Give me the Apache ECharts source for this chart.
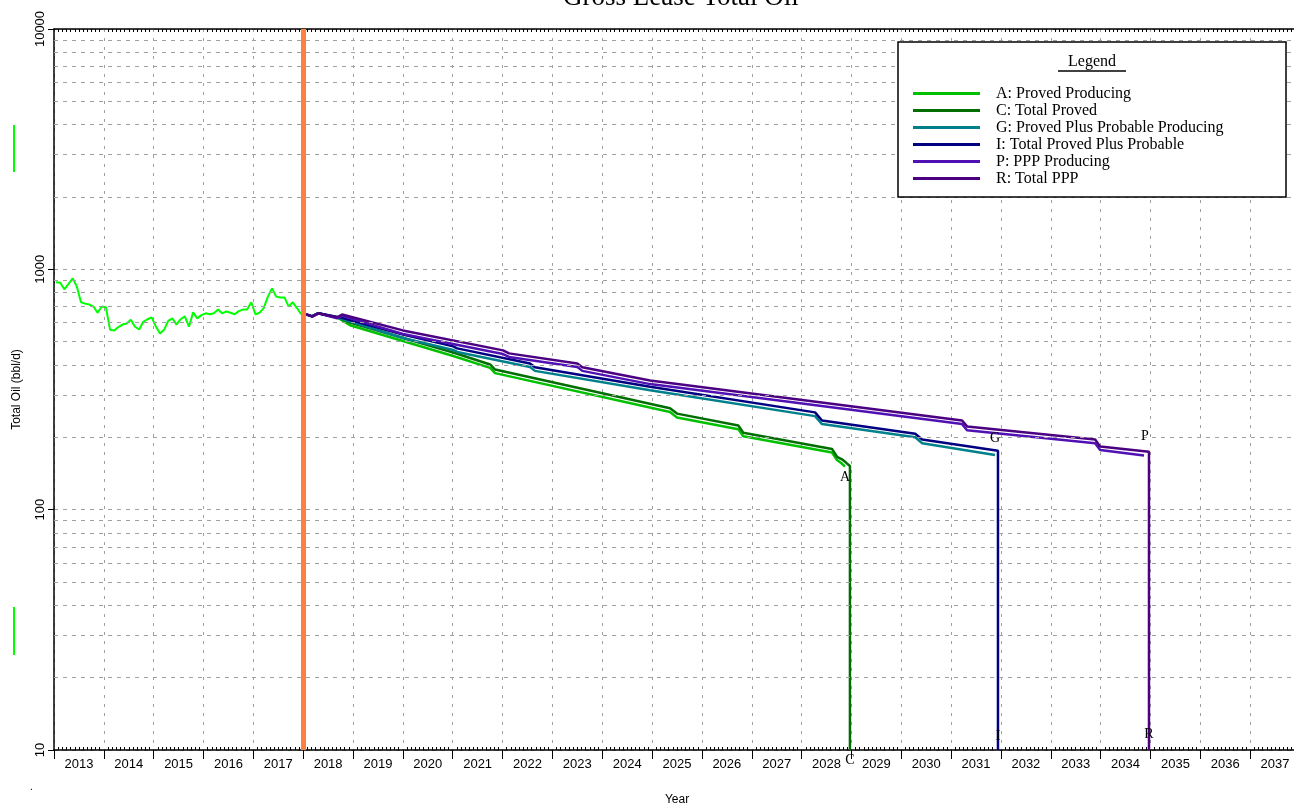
<!DOCTYPE html>
<html>
<head>
<meta charset="utf-8">
<script src="https://cdn.jsdelivr.net/npm/echarts@6/dist/echarts.min.js"></script>
<style>
html,body{margin:0;padding:0;background:#fff;}
#chart{width:1294px;height:803px;}
</style>
</head>
<body>
<div id="chart"></div>
<script>
// ---------- DATA ----------
const yearLabels = ['2013','2014','2015','2016','2017','2018','2019','2020','2021','2022','2023','2024','2025','2026','2027','2028','2029','2030','2031','2032','2033','2034','2035','2036','2037'];
const yTickValues = [10, 100, 1000, 10000];
const minorGridValues = [20,30,40,50,60,70,80,90,200,300,400,500,600,700,800,900,2000,3000,4000,5000,6000,7000,8000,9000];
const forecastStart = 2018;

// historical monthly production 2013-01 .. 2017-12 (bbl/d)
const histStartYear = 2013;
const histValues = [
  883,880,826,870,917,849,729,720,714,700,660,700,
  696,560,557,575,589,595,617,577,562,605,620,631,
  580,541,560,610,625,589,620,637,577,662,625,645,
  656,650,656,680,656,668,660,650,670,680,680,729,
  650,660,690,770,833,770,764,764,700,729,690,650
];

// forecasts [year, bbl/d]
const seriesA = [[2018.0,656],[2018.18,637],[2018.3,656],[2018.7,628],[2018.94,585],[2021.01,436],[2021.75,389],[2021.85,370],[2025.36,255],[2025.5,242],[2026.73,216],[2026.83,202],[2028.61,173],[2028.71,161],[2028.8,156],[2028.87,151]];
const seriesC = [[2018.0,656],[2018.18,637],[2018.3,656],[2018.7,631],[2018.94,601],[2021.01,451],[2021.75,402],[2021.85,383],[2025.36,264],[2025.5,251],[2026.73,224],[2026.83,209],[2028.61,179],[2028.71,166],[2028.81,162],[2028.89,157],[2028.97,152],[2028.97,10]];
const seriesG = [[2018.0,656],[2018.18,637],[2018.3,656],[2018.74,625],[2020.0,518],[2021.01,462],[2021.09,453],[2022.55,392],[2022.65,378],[2024.96,314],[2028.27,245],[2028.41,227],[2030.28,200],[2030.42,189],[2031.88,169]];
const seriesI = [[2018.0,656],[2018.18,637],[2018.3,656],[2018.74,631],[2020.0,536],[2021.01,478],[2021.09,469],[2022.55,406],[2022.65,391],[2024.96,325],[2028.27,254],[2028.41,235],[2030.28,207],[2030.42,196],[2031.94,176],[2031.94,10]];
const seriesP = [[2018.0,656],[2018.18,637],[2018.3,656],[2018.68,625],[2018.78,640],[2020.0,538],[2022.01,444],[2022.13,432],[2023.5,392],[2023.6,378],[2024.96,333],[2031.22,227],[2031.32,214],[2033.89,189],[2033.99,177],[2034.87,168]];
const seriesR = [[2018.0,656],[2018.18,637],[2018.3,656],[2018.68,631],[2018.78,649],[2020.0,557],[2022.01,460],[2022.13,447],[2023.5,406],[2023.6,391],[2024.96,345],[2031.22,235],[2031.32,222],[2033.89,196],[2033.99,183],[2034.97,174],[2034.97,10]];

const names = {
  A:'A: Proved Producing', C:'C: Total Proved', G:'G: Proved Plus Probable Producing',
  I:'I: Total Proved Plus Probable', P:'P: PPP Producing', R:'R: Total PPP'
};
const colors = {A:'#00c000', C:'#006e00', G:'#00808a', I:'#000080', P:'#5010b4', R:'#4b0082'};

// ---------- CHART ----------
const histData = histValues.map((v,i)=>[histStartYear + (i+0.5)/12, v]);
const SERIF = 'Liberation Serif, Times New Roman, serif';
const SANS = 'Liberation Sans, Arial, sans-serif';

function lineSeries(key, data, labelOffset) {
  const last = data[data.length-1];
  return {
    name: names[key], type:'line', data: data, showSymbol:false, symbol:'none',
    xAxisIndex:0, yAxisIndex:0, z:3,
    lineStyle:{color:colors[key], width:2.5},
    itemStyle:{color:colors[key]},
    animation:false,
    markPoint:{
      symbol:'circle', symbolSize:0, silent:true, animation:false,
      data:[{coord:last, label:{show:true, formatter:key, position:'inside', offset:labelOffset, color:'#000', fontFamily:SERIF, fontSize:14}}]
    }
  };
}

const chart = echarts.init(document.getElementById('chart'), null, {renderer:'canvas'});
const option = {
  backgroundColor:'#fff',
  animation:false,
  title:{
    text:'Gross Lease Total Oil', left:558, top:-21,
    textStyle:{fontFamily:SERIF, fontWeight:'normal', fontSize:27, color:'#000'}
  },
  grid:{left:54, top:29, right:-6, bottom:53, containLabel:false, outerBoundsMode:'none'},
  legend:{
    data:[names.A,names.C,names.G,names.I,names.P,names.R].map(n=>({name:n, icon:'rect'})),
    orient:'vertical', left:913, top:85, itemWidth:67, itemHeight:3, itemGap:0,
    padding:0, z:10,
    textStyle:{fontFamily:SERIF, fontSize:16, color:'#000', lineHeight:17, padding:[0,0,0,11]},
    selectedMode:false
  },
  xAxis:[
    { type:'value', min:2013, max:2038, interval:1, position:'bottom',
      axisLine:{show:true, lineStyle:{color:'#000', width:1.5}},
      axisTick:{show:false, inside:true},
      minorTick:{show:true, splitNumber:12, length:3, lineStyle:{color:'#000', width:1}},
      axisLabel:{show:false},
      splitLine:{show:true, lineStyle:{color:'#a0a0a0', type:[3,6], width:1}}
    },
    { type:'category', data:yearLabels, boundaryGap:true, position:'bottom', gridIndex:0,
      axisLine:{show:false},
      axisTick:{show:true, length:9, lineStyle:{color:'#000', width:1}},
      axisLabel:{show:true, fontFamily:SANS, fontSize:13, color:'#000', margin:8, interval:0},
      splitLine:{show:false},
      name:'Year', nameLocation:'middle', nameGap:44,
      nameTextStyle:{fontFamily:SANS, fontSize:12, color:'#000'}
    },
    { type:'value', min:2013, max:2038, interval:1, position:'top',
      axisLine:{show:true, lineStyle:{color:'#000', width:1.5}},
      axisTick:{show:false, inside:true},
      minorTick:{show:true, splitNumber:12, length:3, lineStyle:{color:'#000', width:1}},
      axisLabel:{show:false}, splitLine:{show:false}
    }
  ],
  yAxis:[{
    type:'log', logBase:10, min:10, max:10000,
    axisLine:{show:true, lineStyle:{color:'#000', width:1.5}},
    axisTick:{show:true, length:6, lineStyle:{color:'#000'}},
    axisLabel:{show:true, rotate:90, fontFamily:SANS, fontSize:13, color:'#000', margin:7,
      formatter:v=>String(Math.round(v)),
      customValues: yTickValues},
    splitLine:{show:true, lineStyle:{color:'#a0a0a0', type:[4,5], width:1}},
    name:'Total Oil (bbl/d)', nameLocation:'middle', nameGap:31,
    nameTextStyle:{fontFamily:SANS, fontSize:12, color:'#000'}
  }],
  series:[
    { name:'_grid', type:'line', data:[], xAxisIndex:0, yAxisIndex:0, z:1, animation:false,
      markLine:{ silent:true, symbol:['none','none'], animation:false, label:{show:false},
        lineStyle:{color:'#a0a0a0', type:[4,5], width:1},
        data: minorGridValues.map(v=>({yAxis:v}))
      }
    },
    { name:'_hist', type:'line', data:histData, showSymbol:false, symbol:'none', z:3,
      xAxisIndex:0, yAxisIndex:0, animation:false,
      lineStyle:{color:'#00ff00', width:2},
      markLine:{ silent:true, symbol:['none','none'], animation:false, label:{show:false},
        lineStyle:{color:'#ff7f3f', type:'solid', width:5},
        data:[{xAxis:forecastStart}]
      }
    },
    lineSeries('A', seriesA, [0,11]),
    lineSeries('C', seriesC, [0,10]),
    lineSeries('G', seriesG, [0,-17]),
    lineSeries('I', seriesI, [0,-14]),
    lineSeries('P', seriesP, [1,-19]),
    lineSeries('R', seriesR, [0,-16])
  ],
  graphic:[
    {type:'rect', z:8, shape:{x:898, y:42, width:388, height:155}, style:{fill:'#fff', stroke:'#000', lineWidth:1.5}},
    {type:'text', z:9, x:1092, y:62, style:{text:'Legend', fontFamily:SERIF, fontSize:16, fill:'#000', align:'center', verticalAlign:'middle'}},
    {type:'line', z:9, shape:{x1:1058, y1:71, x2:1126, y2:71}, style:{stroke:'#000', lineWidth:1.5}},
    {type:'line', z:9, shape:{x1:14, y1:125, x2:14, y2:172}, style:{stroke:'#00ff00', lineWidth:2}},
    {type:'line', z:9, shape:{x1:14, y1:607, x2:14, y2:655}, style:{stroke:'#00ff00', lineWidth:2}},
    {type:'text', z:9, x:30, y:782, style:{text:'.', fontFamily:SANS, fontSize:10, fill:'#000'}}
  ]
};
chart.setOption(option);
</script>
</body>
</html>
